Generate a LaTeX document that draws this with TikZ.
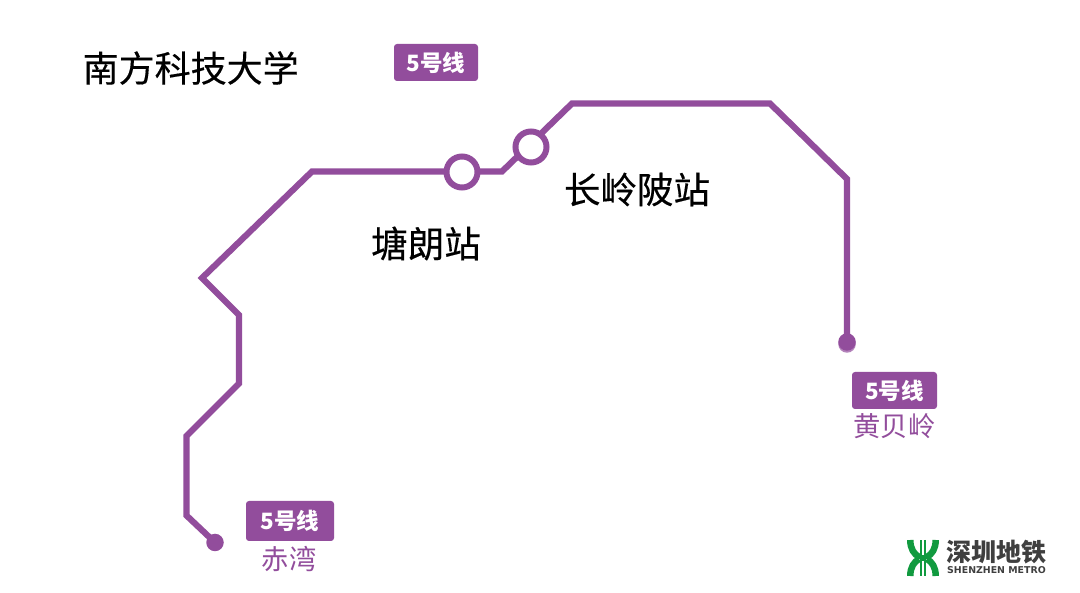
\documentclass[tikz,border=0pt]{standalone}
\usepackage{fontspec}
\setmainfont{Noto Sans CJK SC}
\newfontfamily\cjkmedium{Noto Sans CJK SC}[FakeBold=0.35]
\newfontfamily\latinbold{DejaVu Sans}
\definecolor{lineviolet}{HTML}{924D9C}
\definecolor{metrogreen}{HTML}{119A3F}
\definecolor{metrogray}{HTML}{3F3F3F}
\tikzset{
  routeline/.style={draw=lineviolet,line width=6.2pt,line join=miter},
  stationring/.style={circle,draw=lineviolet,line width=6pt,fill=white,minimum size=31pt,inner sep=0pt},
  terminus/.style={circle,fill=lineviolet,minimum size=17.5pt,inner sep=0pt},
  badge/.style={fill=lineviolet,rounded corners=3pt,text=white,font=\fontsize{22.5}{22.5}\selectfont\bfseries,inner sep=0pt,align=center},
  termname/.style={text=lineviolet,font=\fontsize{27.3}{27.3}\selectfont,inner sep=0pt},
  stationname/.style={text=black,font=\cjkmedium\fontsize{36.5}{36.5}\selectfont,inner sep=0pt},
  logostroke/.style={draw=metrogreen,line width=6.5pt,line cap=butt},
}
\begin{document}
\begin{tikzpicture}[x=1pt,y=-1pt]
\useasboundingbox (0,0) rectangle (1080,593);
\fill[white] (0,0) rectangle (1080,593);
% route
\coordinate (p1) at (215,542.5);
\coordinate (p2) at (186.5,515.5);
\coordinate (p3) at (186.5,436);
\coordinate (p4) at (239,383.5);
\coordinate (p5) at (239,315);
\coordinate (p6) at (202,278);
\coordinate (p7) at (312,171.5);
\coordinate (p8) at (502,171.5);
\coordinate (p9) at (572,103.5);
\coordinate (p10) at (770,103.5);
\coordinate (p11) at (847,179);
\coordinate (p12) at (847,342);
\draw[routeline] (p1) -- (p2) -- (p3) -- (p4) -- (p5) -- (p6) -- (p7) -- (p8) -- (p9) -- (p10) -- (p11) -- (p12);
\node[terminus] (chiwan) at (p1) {};
\node[terminus,fill=lineviolet!70] (huangbeishadow) at (847,344) {};
\node[terminus] (huangbei) at (p12) {};
\node[stationring] (tanglang) at (462,172) {};
\node[stationring] (changling) at (531,147) {};
% texts
\node[anchor=west,inner sep=0pt,font=\cjkmedium\fontsize{36}{36}\selectfont,text=black] (title) at (82.5,68) {南方科技大学};
\node[stationname] (tanglangname) at (426,243.5) {塘朗站};
\node[stationname] (changlingname) at (637,189.5) {长岭陂站};
\node[badge,minimum width=84pt,minimum height=37pt] (badgetop) at (436,62.5) {5号线};
\node[badge,minimum width=85pt,minimum height=37pt] (badgeright) at (894.5,390.5) {5号线};
\node[badge,minimum width=88pt,minimum height=40pt] (badgeleft) at (290,521) {5号线};
\node[termname] (huangbeiname) at (894.5,426) {黄贝岭};
\node[termname] (chiwanname) at (289,559) {赤湾};
% logo
\draw[logostroke] (923,540) -- (923,576);
\draw[logostroke] (910.3,540) .. controls (910.3,549) and (914,554) .. (919,557);
\draw[logostroke] (935.7,540) .. controls (935.7,549) and (932,554) .. (927,557);
\draw[logostroke] (910.3,576) .. controls (910.3,567) and (914,562) .. (919,559);
\draw[logostroke] (935.7,576) .. controls (935.7,567) and (932,562) .. (927,559);
\draw[draw=white,line width=1.2pt] (923,540) -- (923,555) (923,561) -- (923,576);
\draw[draw=metrogreen,line width=3pt] (915,558) -- (931,558);
\node[inner sep=0pt,text=metrogray,font=\fontsize{25}{25}\selectfont\bfseries] (logocn) at (996,552) {深圳地铁};
\node[inner sep=0pt,text=metrogray,font=\latinbold\bfseries\fontsize{9.4}{9.4}\selectfont] (logoen) at (996.5,570.5) {SHENZHEN METRO};
\end{tikzpicture}
\end{document}
